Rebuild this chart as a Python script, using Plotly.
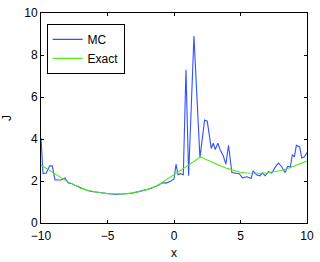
import plotly.graph_objects as go

# Monte Carlo estimate
x_mc = [-10.0, -9.85, -9.6, -9.35, -9.15, -8.95, -8.5, -8.2, -7.95, -7.7,
        -7.4, -7.1, -6.8, -6.5, -6.2, -5.9, -5.6, -5.3, -5.0, -4.7,
        -4.4, -4.1, -3.8, -3.5, -3.2, -2.9, -2.6, -2.3, -2.0, -1.7,
        -1.4, -1.1, -0.9, -0.6, -0.3, 0.0, 0.15, 0.3, 0.5, 0.7,
        0.9, 1.1, 1.5, 1.95, 2.3, 2.5, 2.8, 2.95, 3.1, 3.3,
        3.46, 3.7, 3.9, 4.1, 4.35, 4.7, 4.9, 5.15, 5.5, 5.8,
        5.95, 6.2, 6.45, 6.65, 6.85, 7.1, 7.35, 7.6, 7.85, 8.1,
        8.35, 8.55, 8.75, 8.9, 9.05, 9.2, 9.45, 9.6, 9.8, 10.0]
j_mc = [4.05, 2.35, 2.38, 2.72, 2.72, 2.05, 2.05, 2.15, 1.9, 1.88,
        1.78, 1.7, 1.6, 1.55, 1.5, 1.47, 1.44, 1.42, 1.4, 1.38,
        1.36, 1.37, 1.38, 1.39, 1.42, 1.46, 1.5, 1.56, 1.6, 1.66,
        1.75, 1.82, 1.92, 1.9, 1.97, 2.1, 2.8, 2.3, 2.35, 2.3,
        7.3, 2.25, 8.9, 3.1, 4.9, 4.85, 3.55, 3.8, 3.5, 3.8,
        3.5, 3.2, 2.8, 3.7, 2.4, 2.37, 2.35, 2.15, 2.2, 2.12,
        2.48, 2.3, 2.25, 2.38, 2.25, 2.44, 2.38, 2.65, 2.85, 2.68,
        2.4, 2.7, 2.68, 3.25, 3.15, 3.7, 3.62, 3.1, 3.15, 3.35]

# exact solution
x_exact = [-10, -9.5, -9, -8.5, -8, -7.5, -7, -6.5, -6, -5.5,
           -5, -4.5, -4, -3.5, -3, -2.5, -2, -1.5, -1, -0.5,
           0, 0.5, 1, 1.5, 2, 2.5, 3, 3.5, 4, 4.5,
           5, 5.5, 6, 6.5, 7, 7.5, 8, 8.5, 9, 9.5, 10]
j_exact = [2.76, 2.55, 2.35, 2.16, 1.97, 1.8, 1.66, 1.56, 1.49, 1.44,
           1.4, 1.38, 1.38, 1.4, 1.44, 1.51, 1.6, 1.72, 1.88, 2.1,
           2.3, 2.52, 2.72, 2.93, 3.15, 3.0, 2.84, 2.71, 2.6, 2.5,
           2.42, 2.38, 2.37, 2.37, 2.39, 2.43, 2.49, 2.58, 2.7, 2.82, 2.95]

fig = go.Figure()

fig.add_trace(go.Scatter(x=x_mc, y=j_mc, mode='lines', name='MC',
                         line=dict(color='rgb(50,80,255)', width=1.1)))
fig.add_trace(go.Scatter(x=x_exact, y=j_exact, mode='lines', name='Exact',
                         line=dict(color='rgb(80,235,20)', width=1.1)))

axis_style = dict(showline=True, mirror='ticks', linecolor='black', linewidth=1,
                  ticks='inside', ticklen=3, tickcolor='black',
                  showgrid=False, zeroline=False, automargin=False,
                  tickfont=dict(size=12, color='black'))

fig.update_xaxes(range=[-10, 10], tickvals=[-10, -5, 0, 5, 10],
                 ticklabelstandoff=2,
                 title=dict(text='x', standoff=6, font=dict(size=12)),
                 **axis_style)
fig.update_yaxes(range=[0, 10], tickvals=[0, 2, 4, 6, 8, 10],
                 title=dict(text='J', standoff=14, font=dict(size=12)),
                 **axis_style)

fig.update_layout(
    width=320, height=262,
    margin=dict(l=41, r=13, t=13, b=39),
    paper_bgcolor='white', plot_bgcolor='white',
    font=dict(family='Liberation Sans, Arial, sans-serif', size=12, color='black'),
    legend=dict(x=0.021, y=0.948, xanchor='left', yanchor='top',
                bgcolor='white', bordercolor='black', borderwidth=1,
                font=dict(size=12), tracegroupgap=0),
)

# drop the default page margin so the figure sits at the window corner
fig.write_html("out.html", config={'displayModeBar': False},
               post_script="document.body.style.margin='0';")
